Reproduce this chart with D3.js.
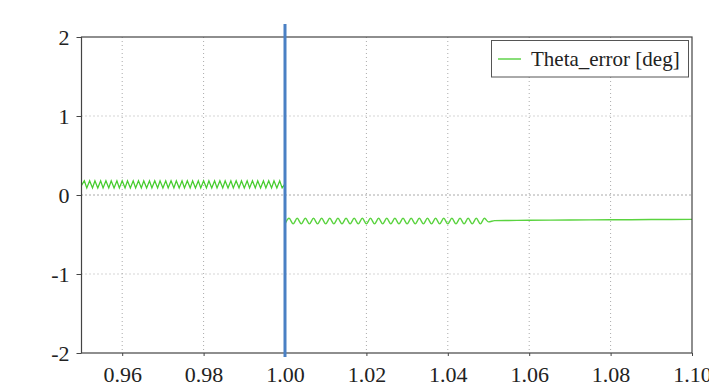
<!DOCTYPE html>
<html><head><meta charset="utf-8">
<script src="https://cdn.jsdelivr.net/npm/d3@7"></script>
<style>body{margin:0;background:#fff}svg{display:block}</style>
</head><body>
<script>
// ---- data ----
const xTicks = [0.96, 0.98, 1.00, 1.02, 1.04, 1.06, 1.08, 1.10];
const xTickLabels = ["0.96","0.98","1.00","1.02","1.04","1.06","1.08","1.10"];
const yTicks = [-2, -1, 0, 1, 2];
const yTickLabels = ["-2","-1","0","1","2"];
const seriesName = "Theta_error [deg]";
const eventTime = 1.00;

// before the event: fast ripple
const preT = [0.9500,0.9507,0.9513,0.9520,0.9527,0.9533,0.9540,0.9547,0.9553,0.9560,0.9567,0.9573,0.9580,0.9587,0.9593,0.9600,
  0.9607,0.9613,0.9620,0.9627,0.9633,0.9640,0.9647,0.9653,0.9660,0.9667,0.9673,0.9680,0.9687,0.9693,0.9700,
  0.9707,0.9713,0.9720,0.9727,0.9733,0.9740,0.9747,0.9753,0.9760,0.9767,0.9773,0.9780,0.9787,0.9793,0.9800,
  0.9807,0.9813,0.9820,0.9827,0.9833,0.9840,0.9847,0.9853,0.9860,0.9867,0.9873,0.9880,0.9887,0.9893,0.9900,
  0.9907,0.9913,0.9920,0.9927,0.9933,0.9940,0.9947,0.9953,0.9960,0.9967,0.9973,0.9980,0.9987,0.9993,1.0000];
const preV = [0.12,0.18,0.09,0.18,0.09,0.18,0.09,0.18,0.09,0.18,0.09,0.18,0.09,0.18,0.09,0.18,
  0.09,0.18,0.09,0.18,0.09,0.18,0.09,0.18,0.09,0.18,0.09,0.18,0.09,0.18,0.09,
  0.18,0.09,0.18,0.09,0.18,0.09,0.18,0.09,0.18,0.09,0.18,0.09,0.18,0.09,0.18,
  0.09,0.18,0.09,0.18,0.09,0.18,0.09,0.18,0.09,0.18,0.09,0.18,0.09,0.18,0.09,
  0.18,0.09,0.18,0.09,0.18,0.09,0.18,0.09,0.18,0.09,0.18,0.09,0.18,0.09,0.14];

// after the event: slower ripple, then settles
const postT = [1.000,1.001,1.002,1.003,1.004,1.005,1.006,1.007,1.008,1.009,1.010,1.011,1.012,1.013,1.014,1.015,1.016,1.017,1.018,1.019,
  1.020,1.021,1.022,1.023,1.024,1.025,1.026,1.027,1.028,1.029,1.030,1.031,1.032,1.033,1.034,1.035,1.036,1.037,1.038,1.039,
  1.040,1.041,1.042,1.043,1.044,1.045,1.046,1.047,1.048,1.049,1.050,1.0515,1.055,1.060,1.070,1.080,1.090,1.100];
const postV = [-0.365,-0.295,-0.365,-0.295,-0.365,-0.295,-0.365,-0.295,-0.365,-0.295,-0.365,-0.295,-0.365,-0.295,-0.365,-0.295,-0.365,-0.295,-0.365,-0.295,
  -0.365,-0.295,-0.365,-0.295,-0.365,-0.295,-0.365,-0.295,-0.365,-0.295,-0.365,-0.295,-0.365,-0.295,-0.365,-0.295,-0.365,-0.295,-0.365,-0.295,
  -0.365,-0.295,-0.365,-0.295,-0.365,-0.295,-0.365,-0.295,-0.365,-0.295,-0.34,-0.325,-0.322,-0.320,-0.317,-0.314,-0.311,-0.308];

// ---- chart ----
const W = 709, H = 386;
const svg = d3.select("body").append("svg").attr("width", W).attr("height", H);
const x = d3.scaleLinear().domain([0.95, 1.10]).range([81.5, 692]);
const y = d3.scaleLinear().domain([-2, 2]).range([353, 37]);
const font = "'Liberation Serif', 'DejaVu Serif', serif";

// grid
svg.append("g").selectAll("line").data(xTicks.filter(d => d < 1.10)).join("line")
  .attr("x1", d => x(d)).attr("x2", d => x(d)).attr("y1", y(2)).attr("y2", y(-2))
  .attr("stroke", "#aaa").attr("stroke-width", 1).attr("stroke-dasharray", "1,3");
svg.append("g").selectAll("line").data(yTicks.filter(d => d > -2 && d < 2)).join("line")
  .attr("x1", x(0.95)).attr("x2", x(1.10)).attr("y1", d => y(d)).attr("y2", d => y(d))
  .attr("stroke", d => d === 0 ? "#555" : "#aaa").attr("stroke-width", 1).attr("stroke-dasharray", "1,3");

// series
const line = d3.line().x(d => x(d[0])).y(d => y(d[1]));
const lineSmooth = d3.line().x(d => x(d[0])).y(d => y(d[1])).curve(d3.curveMonotoneX);
svg.append("clipPath").attr("id", "clip").append("rect")
  .attr("x", x(0.95)).attr("y", y(2)).attr("width", x(1.10) - x(0.95)).attr("height", y(-2) - y(2));
const g = svg.append("g").attr("clip-path", "url(#clip)");
g.append("path").datum(preT.map((t, i) => [t, preV[i]])).attr("d", line)
  .attr("fill", "none").attr("stroke", "#47cc2f").attr("stroke-width", 1.3);
g.append("path").datum([[eventTime, preV[preV.length-1]], [eventTime, postV[0]]]).attr("d", line)
  .attr("fill", "none").attr("stroke", "#47cc2f").attr("stroke-width", 1.3);
g.append("path").datum(postT.map((t, i) => [t, postV[i]])).attr("d", lineSmooth)
  .attr("fill", "none").attr("stroke", "#5ad33f").attr("stroke-width", 1.4);

// axes
const xAxis = d3.axisBottom(x).tickValues(xTicks).tickFormat((d, i) => xTickLabels[i]).tickSize(3).tickPadding(3);
const yAxis = d3.axisLeft(y).tickValues(yTicks).tickFormat((d, i) => yTickLabels[i]).tickSize(5).tickPadding(7);
const gx = svg.append("g").attr("transform", `translate(0,${y(-2)})`).call(xAxis);
const gy = svg.append("g").attr("transform", `translate(${x(0.95)},0)`).call(yAxis);
[gx, gy].forEach(a => {
  a.select(".domain").remove();
  a.selectAll(".tick line").attr("stroke", "#444");
  a.selectAll("text").attr("font-family", font).attr("font-size", 22).attr("fill", "#222");
});
gx.selectAll("text").attr("dy", "1.05em");
gy.selectAll("text").attr("dy", "0.33em");

// frame
svg.append("rect").attr("x", x(0.95)).attr("y", y(2)).attr("width", x(1.10) - x(0.95)).attr("height", y(-2) - y(2))
  .attr("fill", "none").attr("stroke", "#444").attr("stroke-width", 1.2);

// event marker
svg.append("line").attr("x1", x(eventTime)).attr("x2", x(eventTime)).attr("y1", 24).attr("y2", 357)
  .attr("stroke", "#4a80c4").attr("stroke-width", 3);

// legend
const lg = svg.append("g");
lg.append("rect").attr("x", 491.5).attr("y", 40.5).attr("width", 197).attr("height", 36.5)
  .attr("fill", "#fff").attr("stroke", "#555").attr("stroke-width", 1);
lg.append("line").attr("x1", 498).attr("x2", 521).attr("y1", 59).attr("y2", 59)
  .attr("stroke", "#47cc2f").attr("stroke-width", 1.3);
lg.append("text").attr("x", 531).attr("y", 66).text(seriesName)
  .attr("font-family", font).attr("font-size", 21).attr("fill", "#222");
</script>
</body></html>
